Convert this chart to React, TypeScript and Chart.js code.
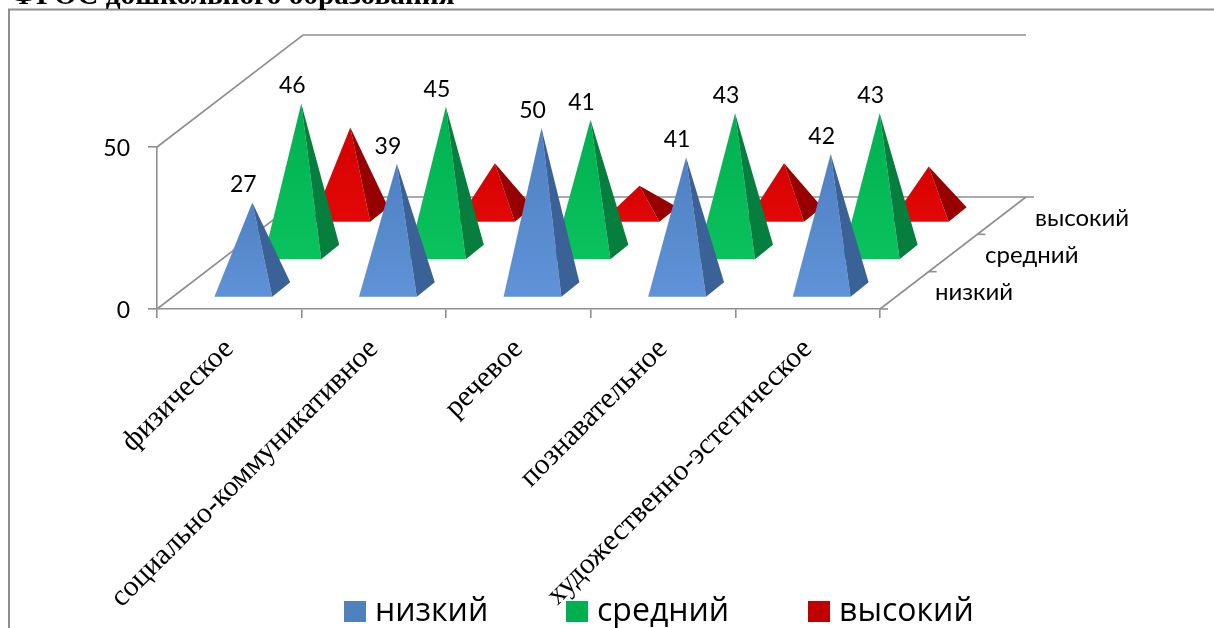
import React, { useEffect, useRef } from "react";
import { Chart, BarController, BarElement, CategoryScale, LinearScale } from "chart.js";

const categories = ["физическое", "социально-коммуникативное", "речевое", "познавательное", "художественно-эстетическое"];
const seriesNames = ["низкий", "средний", "высокий"];
const lowValues = [27, 39, 50, 41, 42];
const midValues = [46, 45, 41, 43, 43];
const highValues = [27, 16, 9, 16, 15];
const heading = "ФГОС дошкольного образования";

const AXIS = "#8f8f8f";
const SANS = "Lato, 'Open Sans', sans-serif";
const SERIF = "'Liberation Serif', serif";
// oblique projection of the depth axis
const DEPTH_X = 146 / 3;
const DEPTH_Y = 112 / 3;

class PyramidController extends BarController {
  static id = "pyramid";
  static defaults = BarController.defaults;
  static overrides = BarController.overrides;
  draw() {
    const ctx = this.chart.ctx;
    const ds: any = this.getDataset();
    const z = this.index;
    const dx = 23 + 49 * z;
    const dy = 19 + 37.5 * z;
    ctx.save();
    for (const el of this._cachedMeta.data as any[]) {
      const cx = el.x + dx;
      const cy = el.base - dy;
      const half = el.width / 2;
      const ax = cx;
      const ay = el.y - dy;
      const fl = [cx - half - 9, cy + 7.5];
      const fr = [cx + half - 9, cy + 7.5];
      const br = [cx + half + 9, cy - 7];
      const g = ctx.createLinearGradient(0, ay, 0, fl[1]);
      g.addColorStop(0, ds.frontTop);
      g.addColorStop(1, ds.frontBottom);
      ctx.fillStyle = g;
      ctx.beginPath();
      ctx.moveTo(ax, ay);
      ctx.lineTo(fl[0], fl[1]);
      ctx.lineTo(fr[0], fr[1]);
      ctx.closePath();
      ctx.fill();
      ctx.fillStyle = ds.side;
      ctx.beginPath();
      ctx.moveTo(ax, ay);
      ctx.lineTo(fr[0], fr[1]);
      ctx.lineTo(br[0], br[1]);
      ctx.closePath();
      ctx.fill();
    }
    ctx.restore();
  }
}

Chart.register(PyramidController, BarElement, CategoryScale, LinearScale);

const line = (ctx: CanvasRenderingContext2D, pts: number[][]) => {
  ctx.beginPath();
  pts.forEach(([x, y], i) => (i ? ctx.lineTo(x, y) : ctx.moveTo(x, y)));
  ctx.stroke();
};

const scene = {
  id: "scene",
  beforeDatasetsDraw(chart: any) {
    const { ctx, chartArea: a } = chart;
    const bx = a.left + DEPTH_X * 3;
    const rx = a.right + DEPTH_X * 3;
    const by = a.bottom - DEPTH_Y * 3;
    const ty = a.top - DEPTH_Y * 3;
    ctx.save();
    // outer frame and clipped heading
    ctx.strokeStyle = AXIS;
    ctx.lineWidth = 2;
    line(ctx, [[9, 628], [9, 9.5], [1214, 9.5]]);
    ctx.fillStyle = "#000";
    ctx.font = `bold 29.3px ${SERIF}`;
    ctx.textAlign = "left";
    ctx.textBaseline = "alphabetic";
    ctx.fillText(heading, 11, 4);
    // walls and floor
    ctx.lineWidth = 1.6;
    line(ctx, [[a.left, a.top], [bx, ty], [rx, ty]]);
    line(ctx, [[a.left, a.bottom], [bx, by], [rx + 8, by]]);
    line(ctx, [[a.right, a.bottom], [rx, by]]);
    // depth axis ticks
    for (let i = 0; i < 3; i++) {
      const x = a.right + DEPTH_X * i;
      const y = a.bottom - DEPTH_Y * i;
      line(ctx, [[x, y], [x + 8, y]]);
    }
    ctx.restore();
  },
  afterDatasetsDraw(chart: any) {
    const { ctx, chartArea: a } = chart;
    ctx.save();
    ctx.fillStyle = "#000";
    // value labels over blue and green pyramids
    ctx.font = `23px ${SANS}`;
    ctx.textAlign = "center";
    ctx.textBaseline = "middle";
    chart.data.datasets.forEach((ds: any, z: number) => {
      if (!ds.showValue) return;
      chart.getDatasetMeta(z).data.forEach((el: any, i: number) => {
        ctx.fillText(String(ds.data[i]), el.x + 14 + 49 * z, el.y - 19 - 37.5 * z - 17.5);
      });
    });
    // depth axis labels
    ctx.font = `24px ${SANS}`;
    ctx.textAlign = "left";
    seriesNames.forEach((name, z) => {
      ctx.fillText(name, a.right + 55 + 50 * z, a.bottom - 17 - 37 * z);
    });
    // legend
    const boxX = [344, 566, 808];
    ctx.font = `32px 'Open Sans', sans-serif`;
    seriesNames.forEach((name, z) => {
      ctx.fillStyle = chart.data.datasets[z].legendColor;
      ctx.fillRect(boxX[z], 601, 22, 21);
      ctx.fillStyle = "#000";
      ctx.fillText(name, boxX[z] + 31, 612);
    });
    ctx.restore();
  },
};

export default function App() {
  const ref = useRef<HTMLCanvasElement>(null);
  useEffect(() => {
    const chart = new Chart(ref.current!, {
      type: "pyramid" as any,
      data: {
        labels: categories,
        datasets: [
          { label: seriesNames[0], data: lowValues, frontTop: "#4f80c4", frontBottom: "#5f92d6", side: "#3a6296", legendColor: "#4f81bd", showValue: true },
          { label: seriesNames[1], data: midValues, frontTop: "#00b050", frontBottom: "#0ac25e", side: "#067f3e", legendColor: "#00b050", showValue: true },
          { label: seriesNames[2], data: highValues, frontTop: "#d40000", frontBottom: "#e40808", side: "#960000", legendColor: "#c00000", showValue: false },
        ] as any,
      },
      plugins: [scene],
      options: {
        animation: false,
        responsive: false,
        devicePixelRatio: 1,
        layout: { padding: { top: 147, right: 334, left: 0, bottom: 0 } },
        datasets: { pyramid: { grouped: false, categoryPercentage: 1, barPercentage: 0.4, clip: false } } as any,
        plugins: { legend: { display: false }, title: { display: false }, tooltip: { enabled: false } } as any,
        scales: {
          x: {
            type: "category",
            offset: true,
            afterFit: (s: any) => { s.height = 628 - 309; },
            grid: { offset: true, drawOnChartArea: false, color: AXIS, lineWidth: 1.6, tickLength: 9 },
            border: { color: AXIS, width: 1.6 },
            ticks: { autoSkip: false, minRotation: 45, maxRotation: 45, padding: 14, color: "#000", font: { family: SERIF, size: 29.5 } },
          },
          y: {
            type: "linear",
            min: 0,
            max: 50,
            afterFit: (s: any) => { s.width = 157; },
            grid: { drawOnChartArea: false, color: AXIS, lineWidth: 1.6, tickLength: 9 },
            border: { color: AXIS, width: 1.6 },
            ticks: { stepSize: 50, padding: 18, labelOffset: 2, color: "#000", font: { family: SANS, size: 23 } },
          },
        },
      },
    });
    return () => chart.destroy();
  }, []);
  return (
    <div style={{ position: "fixed", left: 0, top: 0, width: 1214, height: 628, background: "#fff" }}>
      <canvas ref={ref} width={1214} height={628} style={{ display: "block" }} />
    </div>
  );
}
